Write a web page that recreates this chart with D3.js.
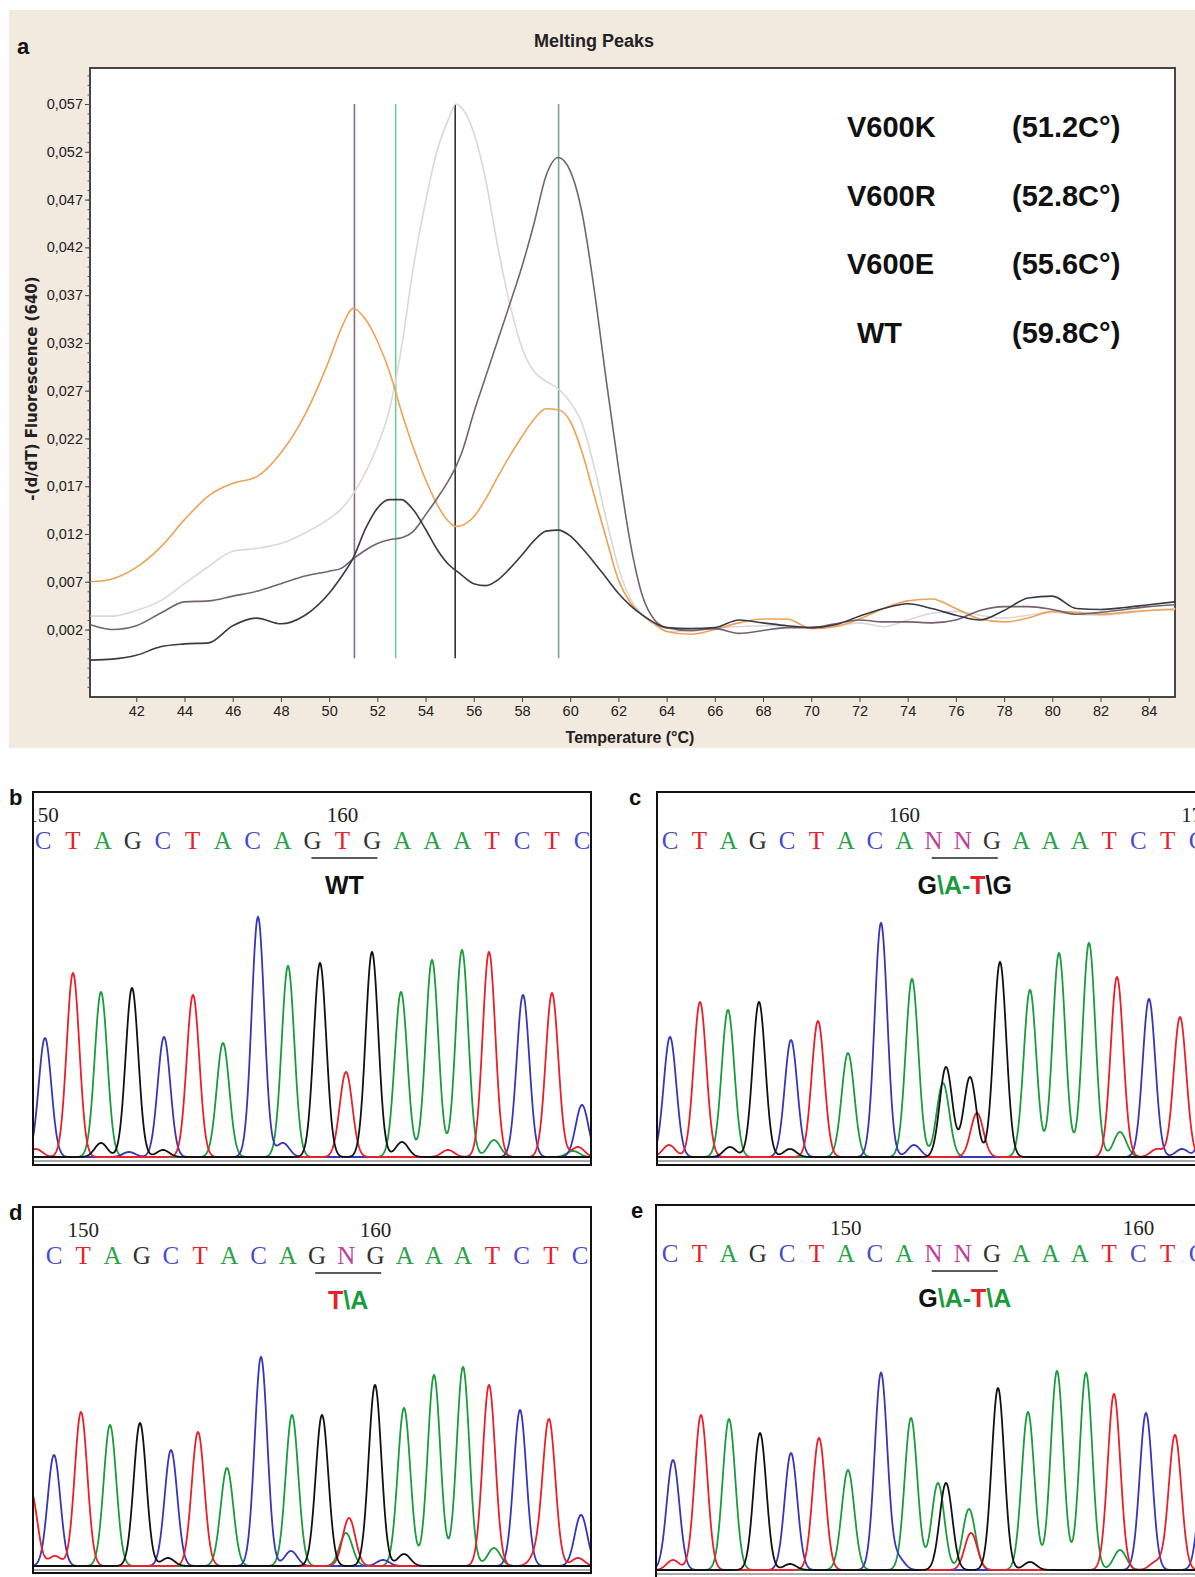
<!DOCTYPE html>
<html>
<head>
<meta charset="utf-8">
<script src="https://cdn.jsdelivr.net/npm/d3@7"></script>
<style>
  body { margin: 0; background: #fff; }
  svg { display: block; }
  .narrow { font-family: "Liberation Sans Narrow", "Arial Narrow", "Liberation Sans", sans-serif; }
  .sans { font-family: "Liberation Sans", Arial, sans-serif; }
  .wide { font-family: "DejaVu Sans", Verdana, sans-serif; }
  .serif { font-family: "Liberation Serif", "Times New Roman", serif; }
</style>
</head>
<body>
<div id="fig"></div>
<script>
// ---------- panel a: melting peaks ----------
const meltTemps = [40.1, 41, 42, 43, 44, 45, 46, 47, 48, 49, 50, 50.5, 51, 51.5, 52, 52.5, 53, 53.5, 54, 54.5,
  55, 55.25, 55.5, 56, 56.5, 57, 57.5, 58, 58.5, 59, 59.5, 60, 60.5, 61, 61.5, 62, 62.5, 63, 63.5, 64,
  65, 66, 67, 68, 69, 70, 71, 72, 73, 74, 75, 76, 77, 78, 79, 80, 81, 82, 83, 84, 85.1];

const meltV600K = [0.0070, 0.0073, 0.0085, 0.0106, 0.0135, 0.0160, 0.0173, 0.0180, 0.0205, 0.0245, 0.0302, 0.0335, 0.0356, 0.0345, 0.0322, 0.0290,
  0.0248, 0.0210, 0.0177, 0.0150, 0.0132, 0.0128, 0.0129, 0.0138, 0.0157, 0.0180, 0.0202, 0.0222, 0.0240, 0.0251, 0.0250,
  0.0238, 0.0205, 0.0160, 0.0115, 0.0072, 0.0048, 0.0035, 0.0026, 0.0018,
  0.0015, 0.0020, 0.0027, 0.0031, 0.0031, 0.0021, 0.0023, 0.0031, 0.0042, 0.0050, 0.0052, 0.0042, 0.0031, 0.0028, 0.0032,
  0.0039, 0.0038, 0.0036, 0.0038, 0.0040, 0.0041];

const meltV600R = [-0.0012, -0.0011, -0.0007, 0.0002, 0.0005, 0.0006, 0.0024, 0.0032, 0.0026, 0.0035, 0.0058, 0.0075, 0.0095, 0.0125, 0.0147, 0.0156,
  0.0156, 0.0145, 0.0125, 0.0103, 0.0087, 0.0082, 0.0077, 0.0068, 0.0066, 0.0072, 0.0084, 0.0098, 0.0113, 0.0123, 0.0124,
  0.0118, 0.0105, 0.0090, 0.0074, 0.0058, 0.0045, 0.0035, 0.0027, 0.0022,
  0.0021, 0.0022, 0.0030, 0.0027, 0.0024, 0.0022, 0.0025, 0.0034, 0.0042, 0.0047, 0.0042, 0.0035, 0.0030, 0.0040, 0.0053,
  0.0055, 0.0042, 0.0041, 0.0043, 0.0046, 0.0049];

const meltV600E = [0.0034, 0.0034, 0.0040, 0.0050, 0.0068, 0.0086, 0.0102, 0.0105, 0.0110, 0.0121, 0.0136, 0.0146, 0.0162, 0.0184, 0.0212, 0.0250,
  0.0315, 0.0400, 0.0468, 0.0523, 0.0557, 0.0570, 0.0566, 0.0540, 0.0490, 0.0420, 0.0360, 0.0315, 0.0290, 0.0280, 0.0272,
  0.0258, 0.0235, 0.0190, 0.0135, 0.0085, 0.0052, 0.0035, 0.0025, 0.0018,
  0.0018, 0.0022, 0.0023, 0.0024, 0.0024, 0.0022, 0.0024, 0.0027, 0.0023, 0.0030, 0.0037, 0.0039, 0.0035, 0.0032, 0.0035,
  0.0038, 0.0036, 0.0035, 0.0037, 0.0040, 0.0042];

const meltWT = [0.0025, 0.0020, 0.0024, 0.0037, 0.0049, 0.0050, 0.0055, 0.0060, 0.0068, 0.0076, 0.0081, 0.0084, 0.0094, 0.0103, 0.0110, 0.0114,
  0.0116, 0.0123, 0.0140, 0.0158, 0.0178, 0.0190, 0.0205, 0.0247, 0.0285, 0.0323, 0.0361, 0.0400, 0.0445, 0.0495, 0.0514,
  0.0500, 0.0455, 0.0375, 0.0280, 0.0190, 0.0110, 0.0055, 0.0030, 0.0022,
  0.0019, 0.0021, 0.0016, 0.0019, 0.0022, 0.0022, 0.0026, 0.0030, 0.0028, 0.0028, 0.0027, 0.0030, 0.0040, 0.0044, 0.0044,
  0.0041, 0.0036, 0.0038, 0.0041, 0.0044, 0.0046];

const meltNames = ["V600K", "V600R", "V600E", "WT"];
const meltTm = ["(51.2C°)", "(52.8C°)", "(55.6C°)", "(59.8C°)"];
const tmLines = [51.05, 52.76, 55.23, 59.52];
const xTicks = d3.range(42, 85, 2);
const yTicks = [0.002, 0.007, 0.012, 0.017, 0.022, 0.027, 0.032, 0.037, 0.042, 0.047, 0.052, 0.057];

// ---------- panels b-e: sequencing traces ----------
// peaks: [base, scan position, signal]
const seqB = "CTAGCTACAGTGAAATCTC";
const peaksB = [["C", 12, 119], ["T", 40, 184], ["A", 68, 165], ["G", 99, 169], ["C", 131, 120], ["T", 160, 162], ["A", 190, 114],
  ["C", 225, 240], ["A", 255, 191], ["G", 287, 194], ["T", 313, 85], ["G", 339, 205], ["A", 368, 165], ["A", 399, 197],
  ["A", 429, 207], ["T", 456, 205], ["C", 490, 162], ["T", 519, 164], ["C", 549, 52]];
const noiseB = [["T", 3, 8], ["G", 68, 14], ["C", 96, 5], ["G", 130, 7], ["C", 250, 14], ["G", 369, 15], ["T", 415, 7],
  ["A", 461, 17], ["T", 545, 10], ["A", 540, 6]];
const labelB = [["WT", "#111"]];

const seqC = "CTAGCTACANNGAAATCTC";
const peaksC = [["C", 13, 120], ["T", 43, 155], ["A", 71, 147], ["G", 102, 155], ["C", 134, 117], ["T", 161, 136], ["A", 191, 104],
  ["C", 224, 234], ["A", 255, 178], ["A", 286, 74], ["G", 289, 90], ["G", 313, 80], ["T", 320, 44], ["G", 343, 195],
  ["A", 373, 167], ["A", 402, 204], ["A", 432, 214], ["T", 460, 180], ["C", 492, 158], ["T", 523, 140], ["C", 553, 120]];
const noiseC = [["T", 12, 12], ["G", 73, 10], ["G", 133, 8], ["C", 257, 12], ["A", 463, 25], ["C", 525, 8], ["T", 500, 8]];
const labelC = [["G", "#111"], ["\\A-", "#1a9c3c"], ["T", "#e8202a"], ["\\G", "#111"]];

const seqD = "CTAGCTACAGNGAAATCTC";
const peaksD = [["T", -2, 74], ["C", 21, 111], ["T", 48, 154], ["A", 77, 141], ["G", 107, 143], ["C", 138, 116], ["T", 165, 134],
  ["A", 194, 98], ["C", 228, 209], ["A", 259, 151], ["G", 289, 151], ["A", 313, 33], ["T", 316, 48], ["G", 342, 181],
  ["A", 371, 158], ["A", 401, 191], ["A", 430, 199], ["T", 456, 181], ["C", 487, 156], ["T", 516, 146], ["C", 548, 51]];
const noiseD = [["T", 22, 10], ["G", 135, 8], ["C", 258, 15], ["G", 371, 12], ["A", 461, 18], ["T", 503, 10], ["T", 545, 8], ["C", 350, 6]];
const labelD = [["T", "#e8202a"], ["\\A", "#1a9c3c"]];

const seqE = "CTAGCTACANNGAAATCTC";
const peaksE = [["C", 17, 110], ["T", 45, 155], ["A", 73, 151], ["G", 104, 137], ["C", 135, 117], ["T", 163, 132], ["A", 192, 100],
  ["C", 225, 197], ["A", 255, 152], ["A", 282, 87], ["G", 290, 87], ["A", 313, 61], ["T", 315, 37], ["G", 342, 182],
  ["A", 372, 158], ["A", 401, 199], ["A", 430, 197], ["T", 458, 176], ["C", 490, 157], ["T", 519, 135], ["C", 549, 110]];
const noiseE = [["T", 17, 10], ["C", 242, 12], ["G", 374, 8], ["A", 464, 20], ["T", 500, 8], ["G", 134, 6]];
const labelE = [["G", "#111"], ["\\A-", "#1a9c3c"], ["T", "#e8202a"], ["\\A", "#1a9c3c"]];

const traceColor = { A: "#1a9c3c", C: "#3636b8", T: "#e8202a", G: "#111111" };
const letterColor = { A: "#2aa348", C: "#4a4ad0", T: "#e8202a", G: "#333333", N: "#c040a0" };

const svg = d3.select("#fig").append("svg").attr("width", 1195).attr("height", 1577);

// ---- melting peaks panel ----
const plot = { left: 90, top: 68, right: 1175, bottom: 697 };

svg.append("rect").attr("x", 9).attr("y", 10).attr("width", 1186).attr("height", 738).attr("fill", "#f2e9df");
svg.append("rect")
  .attr("x", plot.left).attr("y", plot.top)
  .attr("width", plot.right - plot.left).attr("height", plot.bottom - plot.top)
  .attr("fill", "#fff").attr("stroke", "#333").attr("stroke-width", 1.8);

svg.append("text").attr("class", "sans").attr("x", 17).attr("y", 54)
  .attr("font-size", 22).attr("font-weight", "bold").attr("fill", "#111").text("a");
svg.append("text").attr("class", "narrow").attr("x", 594).attr("y", 47)
  .attr("text-anchor", "middle").attr("font-size", 18).attr("font-weight", "bold").attr("fill", "#222")
  .text("Melting Peaks");

const x = d3.scaleLinear().domain([40.08, 85.09]).range([plot.left, plot.right]);
const y = d3.scaleLinear().domain([-0.00506, 0.06077]).range([plot.bottom, plot.top]);

// axes
const commaFmt = d => d.toFixed(3).replace(".", ",");
const yAxis = svg.append("g").attr("class", "narrow").attr("transform", `translate(${plot.left},0)`)
  .call(d3.axisLeft(y).tickValues(yTicks).tickFormat(commaFmt).tickSize(5).tickPadding(2));
svg.append("g").attr("transform", `translate(${plot.left},0)`)
  .call(d3.axisLeft(y).tickValues(d3.range(-4, 61).map(i => i / 1000)).tickFormat("").tickSize(2.5))
  .call(g => g.select(".domain").remove())
  .selectAll("line").attr("stroke", "#555");
const xAxis = svg.append("g").attr("class", "narrow").attr("transform", `translate(0,${plot.bottom})`)
  .call(d3.axisBottom(x).tickValues(xTicks).tickSize(5).tickPadding(4));
[yAxis, xAxis].forEach(a => {
  a.select(".domain").remove();
  a.selectAll("text").attr("font-size", 14.5).attr("fill", "#222").attr("font-family", null);
  a.selectAll("line").attr("stroke", "#444");
});

svg.append("text").attr("class", "wide")
  .attr("transform", `translate(37,${(plot.top + plot.bottom) / 2 + 6}) rotate(-90)`)
  .attr("text-anchor", "middle").attr("font-size", 15).attr("font-weight", "bold").attr("fill", "#222")
  .text("-(d/dT) Fluorescence (640)");
svg.append("text").attr("class", "narrow").attr("x", 630).attr("y", 743)
  .attr("text-anchor", "middle").attr("font-size", 16).attr("font-weight", "bold").attr("fill", "#222")
  .text("Temperature (°C)");

// Tm marker lines
const tmColors = ["#8a6f80", "#6ccf94", "#333333", "#7aa596"];
svg.append("g").selectAll("line").data(tmLines).join("line")
  .attr("x1", d => x(d)).attr("x2", d => x(d))
  .attr("y1", y(0.057)).attr("y2", y(-0.001))
  .attr("stroke", (d, i) => tmColors[i]).attr("stroke-width", 1.6);

// melting curves
const meltSeries = [
  { values: meltV600E, color: "#dcd8d8" },
  { values: meltV600K, color: "#eea256" },
  { values: meltWT, color: "#74636f" },
  { values: meltV600R, color: "#3a3944" }
];
const meltLine = d3.line()
  .x((d, i) => x(meltTemps[i]))
  .y(d => y(d))
  .curve(d3.curveMonotoneX);
svg.append("g").selectAll("path").data(meltSeries).join("path")
  .attr("d", d => meltLine(d.values))
  .attr("fill", "none").attr("stroke", d => d.color).attr("stroke-width", 1.6);

// legend of Tm values
const legendRows = d3.scaleLinear().domain([0, 3]).range([137, 343]);
const legendIndent = [0, 0, 0, 10];
const legend = svg.append("g").attr("class", "sans").attr("font-weight", "bold").attr("font-size", 29).attr("fill", "#111");
legend.selectAll("text.name").data(meltNames).join("text").attr("class", "name")
  .attr("x", (d, i) => 847 + legendIndent[i]).attr("y", (d, i) => legendRows(i)).text(d => d);
legend.selectAll("text.tm").data(meltTm).join("text").attr("class", "tm")
  .attr("x", 1012).attr("y", (d, i) => legendRows(i)).text(d => d);

// ---- chromatogram panels ----
const sigma = 6.3;
const panels = [
  { id: "b", x: 33, top: 792, right: 591, bottom: 1165, base: 1157, seq: seqB, peaks: peaksB, noise: noiseB,
    calls: [10, 549], nums: [[0, "150"], [10, "160"]], label: labelB, tagX: 9 },
  { id: "c", x: 657, top: 792, right: 1215, bottom: 1165, base: 1157, seq: seqC, peaks: peaksC, noise: noiseC,
    calls: [13, 540], nums: [[8, "160"], [18, "170"]], label: labelC, tagX: 629 },
  { id: "d", x: 33, top: 1207, right: 591, bottom: 1573, base: 1566, seq: seqD, peaks: peaksD, noise: noiseD,
    calls: [21, 547], nums: [[1, "150"], [11, "160"]], label: labelD, tagX: 9 },
  { id: "e", x: 656, top: 1205, right: 1215, bottom: 1582, base: 1570, seq: seqE, peaks: peaksE, noise: noiseE,
    calls: [14, 541], nums: [[6, "150"], [16, "160"]], label: labelE, tagX: 631 }
];

function drawChrom(p) {
  const g = svg.append("g");
  const clipId = "clip-" + p.id;
  svg.append("clipPath").attr("id", clipId).append("rect")
    .attr("x", p.x + 1).attr("y", p.top + 1)
    .attr("width", p.right - p.x - 2).attr("height", p.bottom - p.top - 2);

  const xs = d3.scaleLinear().domain([0, 560]).range([p.x, p.x + 560]);
  const ys = d3.scaleLinear().domain([0, 250]).range([p.base, p.base - 250]);
  const calls = d3.scalePoint().domain(d3.range(p.seq.length)).range(p.calls);

  const inner = g.append("g").attr("clip-path", `url(#${clipId})`);

  // one trace per dye, built from the peaks
  const scan = d3.range(-20, 580, 0.5);
  const allPeaks = p.peaks.concat(p.noise);
  const traceLine = d3.line().x(d => xs(d[0])).y(d => ys(d[1]));
  ["A", "C", "T", "G"].forEach(b => {
    const mine = allPeaks.filter(d => d[0] === b);
    const trace = scan.map(s => [s, d3.sum(mine, d => d[2] * Math.exp(-((s - d[1]) ** 2) / (2 * sigma * sigma)))]);
    inner.append("path").datum(trace).attr("d", traceLine)
      .attr("fill", "none").attr("stroke", traceColor[b]).attr("stroke-width", 1.8);
  });

  // base calls
  inner.selectAll("text.base").data(p.seq.split("")).join("text").attr("class", "base serif")
    .attr("x", (d, i) => xs(calls(i))).attr("y", p.top + 57)
    .attr("text-anchor", "middle").attr("font-size", 25)
    .attr("fill", d => letterColor[d]).text(d => d);

  inner.selectAll("text.num").data(p.nums).join("text").attr("class", "num serif")
    .attr("x", d => xs(calls(d[0]))).attr("y", p.top + 30)
    .attr("text-anchor", "middle").attr("font-size", 21).attr("fill", "#222").text(d => d[1]);

  const mid = xs(calls(10)) + 2;
  inner.append("line").attr("x1", mid - 33).attr("x2", mid + 33)
    .attr("y1", p.top + 66).attr("y2", p.top + 66).attr("stroke", "#222").attr("stroke-width", 1.6);

  inner.append("text").attr("class", "sans").attr("x", mid).attr("y", p.top + 102)
    .attr("text-anchor", "middle").attr("font-size", 25).attr("font-weight", "bold")
    .selectAll("tspan").data(p.label).join("tspan")
    .attr("fill", d => d[1]).text(d => d[0]);

  g.append("line").attr("x1", p.x).attr("x2", p.right)
    .attr("y1", p.base + 4).attr("y2", p.base + 4).attr("stroke", "#aaa").attr("stroke-width", 2);
  g.append("rect").attr("x", p.x).attr("y", p.top)
    .attr("width", p.right - p.x).attr("height", p.bottom - p.top)
    .attr("fill", "none").attr("stroke", "#111").attr("stroke-width", 2);

  svg.append("text").attr("class", "sans").attr("x", p.tagX).attr("y", p.top + 13)
    .attr("font-size", 22).attr("font-weight", "bold").attr("fill", "#111").text(p.id);
}

panels.forEach(drawChrom);
</script>
</body>
</html>
